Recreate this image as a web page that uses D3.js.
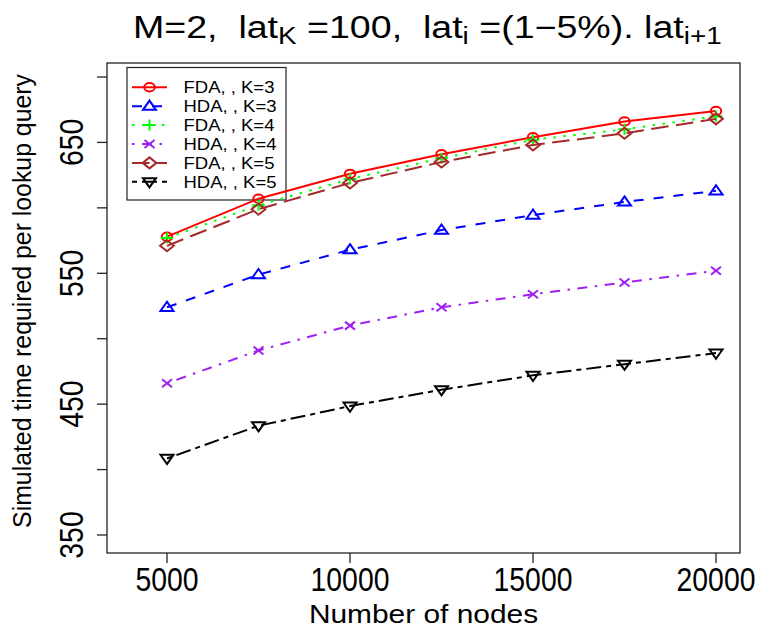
<!DOCTYPE html>
<html>
<head>
<meta charset="utf-8">
<script src="https://cdn.jsdelivr.net/npm/d3@7"></script>
<style>
  body { margin: 0; background: #fff; }
  svg text { font-family: "Liberation Sans", Arial, Helvetica, sans-serif; white-space: pre; fill: #000; }
</style>
</head>
<body>
<svg id="chart" width="772" height="631"></svg>
<script>
// Data
const nodes = [5000, 7500, 10000, 12500, 15000, 17500, 20000];
const fdaK3 = [578, 607, 626, 641, 654, 666, 674];
const hdaK3 = [524, 549, 568, 583, 594.5, 604.5, 613];
const fdaK4 = [577, 602, 622, 638, 652, 660, 670];
const hdaK4 = [466, 491, 510, 524, 534, 543, 552];
const fdaK5 = [571, 599, 619, 635, 648, 657, 668];
const hdaK5 = [408.5, 433.5, 448.5, 461, 472, 480.5, 489];

const seriesNames = ["FDA, , K=3", "HDA, , K=3", "FDA, , K=4", "HDA, , K=4", "FDA, , K=5", "HDA, , K=5"];
const seriesValues = [fdaK3, hdaK3, fdaK4, hdaK4, fdaK5, hdaK5];
const seriesColors = ["#ff0000", "#0000ff", "#00ff00", "#a020f0", "#a52a2a", "#000000"];
const seriesDash = ["none", "10,10", "2.5,7.5", "2.5,7.5,10,7.5", "17.5,7.5", "5,5,15,5"];
const seriesShape = ["circle", "triangle", "plus", "cross", "diamond", "triangleDown"];

const xTicks = [5000, 10000, 15000, 20000];
const yTicks = [350, 400, 450, 500, 550, 600, 650, 700];
const yLabels = [350, 450, 550, 650];

// symbols come out wider than tall in the original
const SX = 1.25;

const box = { left: 107, right: 740, top: 63, bottom: 553 };

const svg = d3.select("#chart");

const x = d3.scaleLinear().domain([5000, 20000]).range([167, 716]);
const y = d3.scaleLinear().domain([350, 700]).range([535, 77]);

function symbolPath(shape) {
  switch (shape) {
    case "circle":
      return "M4.2,0A4.2,4.2 0 1,1 -4.2,0A4.2,4.2 0 1,1 4.2,0Z";
    case "triangle":
      return "M0,-5.6L5.2,3.6L-5.2,3.6Z";
    case "triangleDown":
      return "M0,5.6L5.2,-3.6L-5.2,-3.6Z";
    case "plus":
      return "M-5,0L5,0M0,-5.5L0,5.5";
    case "cross":
      return "M-4,-4L4,4M-4,4L4,-4";
    case "diamond":
      return "M0,-5.5L5.5,0L0,5.5L-5.5,0Z";
  }
}

// text with its own width factor along the writing direction
function scaledText(parent, px, py, str, size, anchor, rotate, sx) {
  const g = parent.append("g")
    .attr("transform", `translate(${px},${py})` + (rotate ? ` rotate(${rotate})` : "") + ` scale(${sx},1)`);
  return g.append("text")
    .attr("text-anchor", anchor)
    .style("font-size", size + "px")
    .text(str);
}

// plot box
svg.append("rect")
  .attr("x", box.left).attr("y", box.top)
  .attr("width", box.right - box.left).attr("height", box.bottom - box.top)
  .attr("fill", "none").attr("stroke", "#222").attr("stroke-width", 1.3);

// y axis
const yAxis = svg.append("g");
yAxis.selectAll("line.tick")
  .data(yTicks)
  .enter().append("line")
  .attr("x1", box.left - 10).attr("x2", box.left)
  .attr("y1", d => y(d)).attr("y2", d => y(d))
  .attr("stroke", "#222").attr("stroke-width", 1.3);
yLabels.forEach(v => {
  scaledText(yAxis, 83, y(v), String(v), 33, "middle", -90, 0.86);
});

// x axis
const xAxis = svg.append("g");
xAxis.selectAll("line.tick")
  .data(xTicks)
  .enter().append("line")
  .attr("x1", d => x(d)).attr("x2", d => x(d))
  .attr("y1", box.bottom).attr("y2", box.bottom + 10)
  .attr("stroke", "#222").attr("stroke-width", 1.3);
xTicks.forEach(v => {
  scaledText(xAxis, x(v), 591, String(v), 33, "middle", 0, 0.86);
});

// axis titles
scaledText(svg, (box.left + box.right) / 2, 623, "Number of nodes", 26, "middle", 0, 1.15);
scaledText(svg, 31, 301, "Simulated time required per lookup query", 26, "middle", -90, 0.955);

// title with subscripts, fitted to the width it takes in the original
const titleG = svg.append("g");
const title = titleG.append("text").attr("text-anchor", "start").style("font-size", "31px");
const titleParts = [
  ["M=2,  lat", false], ["K", true], [" =100,  lat", false], ["i", true],
  [" =(1\u22125%). lat", false], ["i+1", true]
];
titleParts.forEach(([t, sub]) => {
  const ts = title.append("tspan").text(t);
  if (sub) ts.attr("baseline-shift", "-28%").style("font-size", "23px");
});
const tw = title.node().getComputedTextLength();
titleG.attr("transform", `translate(133,38) scale(${589 / tw},1)`);

// legend (transparent box, drawn under the series)
const legend = svg.append("g");
legend.append("rect")
  .attr("x", 127).attr("y", 67.5).attr("width", 159).attr("height", 132.5)
  .attr("fill", "none").attr("stroke", "#222").attr("stroke-width", 1.2);
seriesNames.forEach((name, k) => {
  const ry = 87.3 + k * 18.9;
  legend.append("line")
    .attr("x1", 132).attr("x2", 167).attr("y1", ry).attr("y2", ry)
    .attr("stroke", seriesColors[k]).attr("stroke-width", 2)
    .attr("stroke-dasharray", seriesDash[k]);
  legend.append("path")
    .attr("transform", `translate(149.5,${ry}) scale(${SX},1)`)
    .attr("d", symbolPath(seriesShape[k]))
    .attr("fill", "none")
    .attr("stroke", seriesColors[k])
    .attr("stroke-width", 2)
    .attr("vector-effect", "non-scaling-stroke");
  scaledText(legend, 183.5, ry + 5.8, name, 16, "start", 0, 1.156);
});

// series lines
const line = d3.line().x((d, i) => x(nodes[i])).y(d => y(d));
const plot = svg.append("g");
seriesValues.forEach((vals, k) => {
  plot.append("path")
    .datum(vals)
    .attr("d", line)
    .attr("fill", "none")
    .attr("stroke", seriesColors[k])
    .attr("stroke-width", 2)
    .attr("stroke-dasharray", seriesDash[k]);
  plot.selectAll(null)
    .data(vals)
    .enter().append("path")
    .attr("transform", (d, i) => `translate(${x(nodes[i])},${y(d)}) scale(${SX},1)`)
    .attr("d", symbolPath(seriesShape[k]))
    .attr("fill", "none")
    .attr("stroke", seriesColors[k])
    .attr("stroke-width", 2)
    .attr("vector-effect", "non-scaling-stroke");
});
</script>
</body>
</html>
